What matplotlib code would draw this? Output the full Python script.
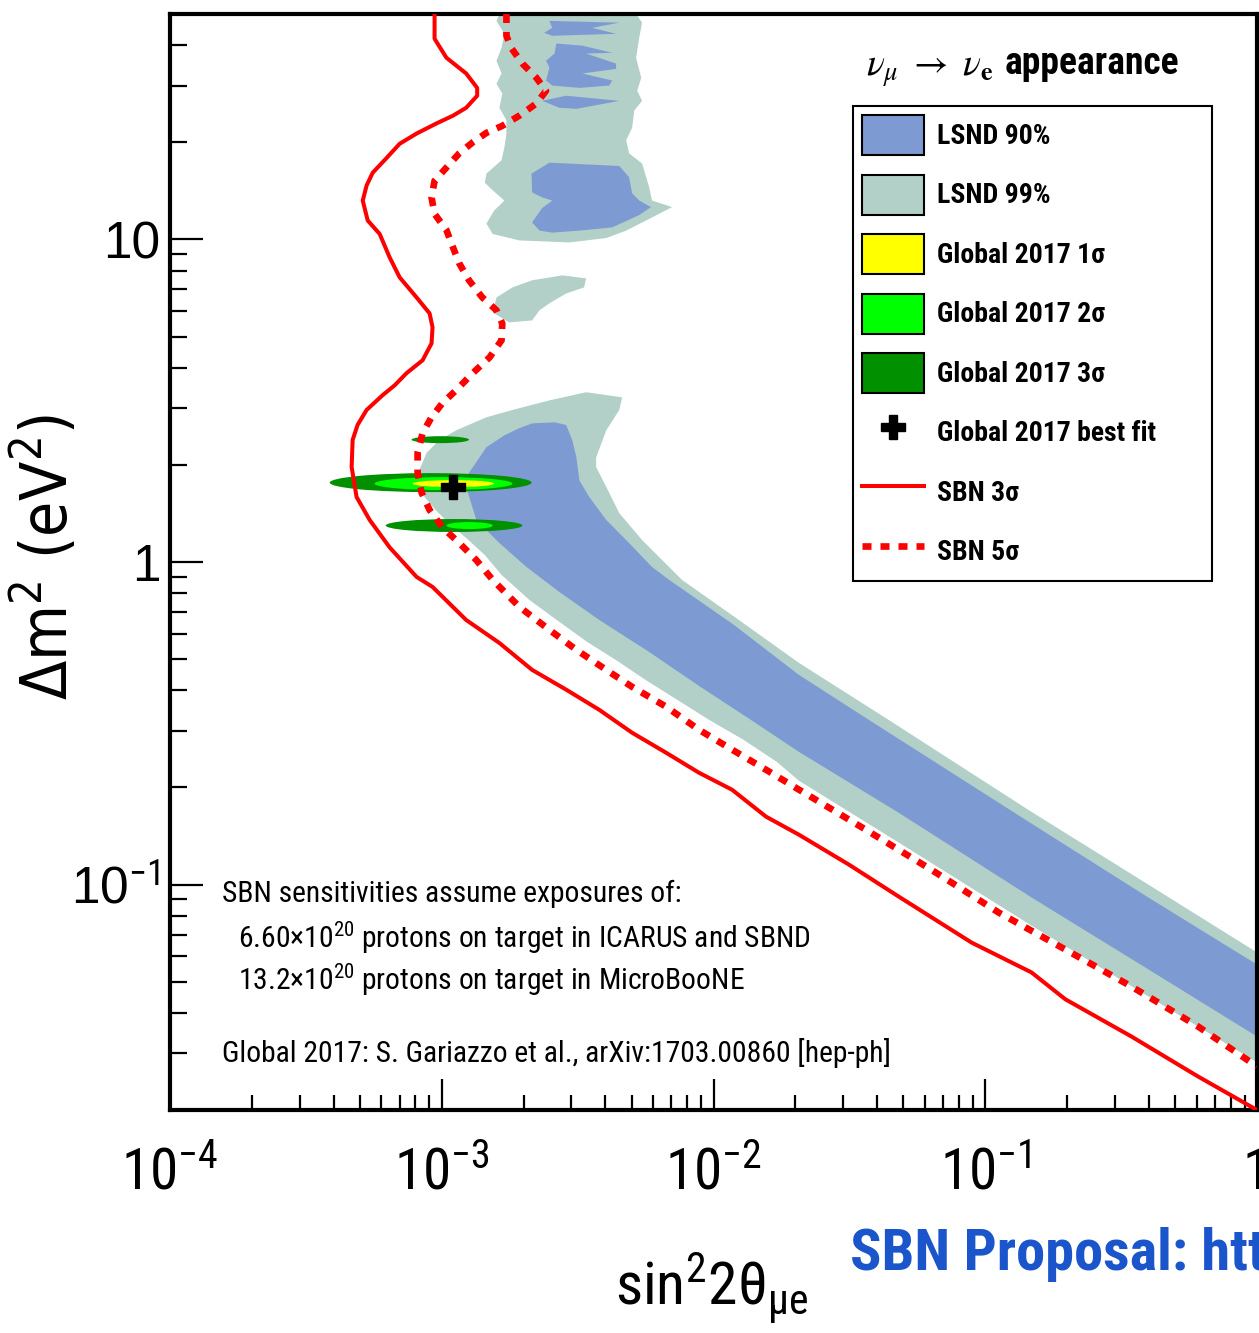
import os
import numpy as np
import matplotlib
matplotlib.use("Agg")
import matplotlib.pyplot as plt
from matplotlib import font_manager
from matplotlib.font_manager import FontProperties
from matplotlib.patches import Patch, Ellipse
from matplotlib.lines import Line2D
from matplotlib.ticker import NullFormatter

# ---------------- data ----------------
x_tick_values = [1e-4, 1e-3, 1e-2, 1e-1, 1.0]
x_tick_labels = ['10$^{-4}$', '10$^{-3}$', '10$^{-2}$', '10$^{-1}$', '1']
y_tick_values = [0.1, 1.0, 10.0]
y_tick_labels = ['10$^{-1}$', '1', '10']

# SBN 3 sigma sensitivity (solid)
sbn3_sin2 = [9.41e-4, 9.41e-4, 1.04e-3, 1.23e-3, 1.35e-3, 1.35e-3, 1.23e-3, 1.10e-3, 9.57e-4, 8.08e-4,
             7.00e-4, 6.27e-4, 5.57e-4, 5.29e-4, 5.12e-4, 5.34e-4, 5.91e-4, 6.43e-4, 7.00e-4, 8.08e-4,
             9.02e-4, 9.25e-4, 9.17e-4, 8.50e-4, 7.42e-4, 6.71e-4, 6.06e-4, 5.29e-4, 4.90e-4, 4.70e-4,
             4.66e-4, 4.86e-4, 5.43e-4, 6.43e-4, 8.08e-4, 9.25e-4, 1.23e-3, 1.63e-3, 2.15e-3, 2.87e-3,
             3.80e-3, 5.02e-3, 6.69e-3, 8.84e-3, 1.17e-2, 1.56e-2, 2.06e-2, 3.15e-2, 4.80e-2, 8.90e-2,
             0.148, 0.197, 0.345, 0.607, 1.0]
sbn3_dm2 = [50, 41.9, 36.6, 32.7, 29.5, 27.9, 25.6, 24.2, 22.9, 21.3,
            19.8, 17.9, 16.1, 14.7, 13.2, 11.45, 10.4, 8.80, 7.63, 6.61,
            5.90, 5.34, 4.76, 4.22, 3.85, 3.53, 3.29, 2.96, 2.66, 2.39,
            1.97, 1.59, 1.35, 1.11, 0.899, 0.837, 0.661, 0.561, 0.463, 0.402,
            0.348, 0.2955, 0.2563, 0.2222, 0.1968, 0.1624, 0.1428, 0.1153, 0.0918, 0.0661,
            0.0534, 0.0441, 0.0338, 0.0254, 0.0200]

# SBN 5 sigma sensitivity (dotted)
sbn5_sin2 = [1.73e-3, 1.73e-3, 1.80e-3, 1.98e-3, 2.23e-3, 2.42e-3, 2.23e-3, 1.93e-3, 1.67e-3, 1.46e-3,
             1.30e-3, 1.16e-3, 1.04e-3, 9.41e-4, 9.17e-4, 9.41e-4, 1.04e-3, 1.10e-3, 1.16e-3, 1.26e-3,
             1.41e-3, 1.59e-3, 1.67e-3, 1.66e-3, 1.50e-3, 1.30e-3, 1.13e-3, 1.006e-3, 9.17e-4, 8.50e-4,
             8.15e-4, 8.15e-4, 8.43e-4, 9.02e-4, 1.006e-3, 1.16e-3, 1.34e-3, 1.54e-3, 1.93e-3, 2.49e-3,
             3.13e-3, 4.03e-3, 5.02e-3, 6.69e-3, 8.84e-3, 1.17e-2, 1.56e-2, 2.06e-2, 3.63e-2, 6.35e-2,
             0.112, 0.197, 0.345, 0.607, 1.0]
sbn5_dm2 = [50, 42.8, 39.3, 35.1, 31.7, 28.9, 26.4, 24.2, 22.5, 21.4,
            20.0, 18.5, 16.7, 15.2, 13.5, 12.0, 10.7, 9.45, 8.43, 7.47,
            6.61, 6.03, 5.49, 4.87, 4.31, 3.85, 3.41, 3.11, 2.81, 2.51,
            2.18, 1.89, 1.64, 1.45, 1.28, 1.145, 1.014, 0.880, 0.726, 0.616,
            0.534, 0.463, 0.410, 0.356, 0.302, 0.262, 0.227, 0.197, 0.148, 0.111,
            0.0819, 0.0629, 0.0483, 0.0363, 0.0273]

# LSND 99% main region
lsnd99_sin2 = [8.15e-4, 8.28e-4, 8.79e-4, 9.81e-4, 1.13e-3, 1.46e-3, 1.82e-3, 2.49e-3, 3.40e-3, 4.61e-3,
               4.50e-3, 4.03e-3, 3.70e-3, 3.70e-3, 4.03e-3, 4.50e-3, 5.46e-3, 7.66e-3, 1.24e-2, 2.06e-2,
               4.41e-2, 0.148, 0.398, 1.0, 1.0, 0.398, 0.148, 4.80e-2, 2.06e-2, 1.71e-2,
               1.29e-2, 9.63e-3, 7.35e-3, 5.55e-3, 4.42e-3, 3.43e-3, 2.71e-3, 2.10e-3, 1.66e-3, 1.44e-3,
               1.23e-3, 1.07e-3, 9.49e-4, 8.65e-4]
lsnd99_dm2 = [1.757, 1.93, 2.18, 2.39, 2.56, 2.81, 2.96, 3.17, 3.36, 3.24,
              2.96, 2.56, 2.11, 1.97, 1.71, 1.418, 1.17, 0.880, 0.661, 0.487,
              0.324, 0.168, 0.100, 0.0616, 0.0281, 0.045, 0.0746, 0.135, 0.21, 0.240,
              0.281, 0.324, 0.374, 0.434, 0.494, 0.565, 0.652, 0.763, 0.912, 1.051,
              1.187, 1.31, 1.45, 1.59]

# LSND 99% upper region (high dm2)
lsnd99_top_sin2 = [1.63e-3, 1.59e-3, 1.70e-3, 1.66e-3, 1.59e-3, 1.66e-3, 1.59e-3, 1.67e-3, 1.63e-3, 1.73e-3,
                   1.73e-3, 1.70e-3, 1.66e-3, 1.46e-3, 1.44e-3, 1.54e-3, 1.70e-3, 1.56e-3, 1.46e-3, 1.54e-3,
                   1.93e-3, 2.95e-3, 4.03e-3, 4.77e-3, 5.94e-3, 7.04e-3, 5.94e-3, 5.80e-3, 5.46e-3, 4.89e-3,
                   4.77e-3, 5.02e-3, 5.11e-3, 5.46e-3, 5.24e-3, 5.42e-3, 5.19e-3, 5.33e-3, 5.46e-3, 5.19e-3]
lsnd99_top_dm2 = [50, 47.6, 43.4, 39.3, 35.8, 32.7, 30.4, 28.3, 25.6, 23.4,
                  21.3, 19.3, 17.6, 16.0, 15.0, 14.2, 13.2, 12.3, 11.2, 10.4,
                  9.93, 9.79, 10.1, 10.65, 11.7, 12.6, 13.2, 14.5, 17.2, 18.5,
                  20.3, 22.2, 25.1, 26.9, 28.9, 31.7, 36.6, 42.2, 47.0, 50]

# LSND 99% small island (dm2 ~ 6-7)
lsnd99_isl_sin2 = [1.59e-3, 1.82e-3, 2.15e-3, 2.78e-3, 3.40e-3, 3.34e-3, 2.87e-3, 2.49e-3, 2.29e-3, 2.15e-3,
                   1.77e-3, 1.54e-3]
lsnd99_isl_dm2 = [6.61, 7.10, 7.47, 7.74, 7.57, 7.10, 6.80, 6.34, 6.03, 5.61, 5.53, 5.94]

# LSND 90% main region
lsnd90_sin2 = [1.70e-3, 1.93e-3, 2.15e-3, 2.60e-3, 2.87e-3, 3.02e-3, 3.13e-3, 3.21e-3, 3.49e-3, 4.03e-3,
               4.89e-3, 5.94e-3, 6.87e-3, 1.19e-2, 2.06e-2, 3.73e-2, 0.148, 0.398, 1.0, 1.0,
               0.398, 0.148, 4.80e-2, 2.06e-2, 1.35e-2, 8.84e-3, 5.80e-3, 3.80e-3, 2.71e-3, 2.05e-3,
               1.63e-3, 1.34e-3, 1.24e-3, 1.26e-3, 1.46e-3]
lsnd90_dm2 = [2.47, 2.60, 2.69, 2.71, 2.66, 2.39, 2.11, 1.79, 1.59, 1.35,
              1.145, 0.965, 0.880, 0.638, 0.447, 0.324, 0.1545, 0.0912, 0.0565, 0.0338,
              0.0546, 0.0912, 0.167, 0.258, 0.327, 0.413, 0.526, 0.661, 0.807, 0.965,
              1.145, 1.35, 1.67, 1.89, 2.27]

# LSND 90% upper islands
lsnd90_a_sin2 = [2.49e-3, 4.50e-3, 3.58e-3, 4.38e-3, 2.55e-3, 2.38e-3, 2.55e-3]
lsnd90_a_dm2 = [47.6, 47.0, 45.3, 43.4, 42.8, 43.7, 45.3]
lsnd90_b_sin2 = [2.64e-3, 3.29e-3, 4.24e-3, 3.40e-3, 4.38e-3, 4.38e-3, 3.29e-3, 4.24e-3, 4.13e-3, 3.21e-3,
                 2.55e-3, 2.42e-3, 2.49e-3, 2.42e-3, 2.60e-3]
lsnd90_b_dm2 = [40.5, 39.9, 37.9, 37.7, 35.1, 33.8, 32.7, 31.1, 30.0, 29.5,
                30.0, 31.1, 34.1, 35.8, 37.7]
lsnd90_c_sin2 = [2.34e-3, 2.87e-3, 4.50e-3, 3.13e-3, 2.71e-3]
lsnd90_c_dm2 = [26.9, 27.9, 26.9, 25.4, 25.6]
lsnd90_d_sin2 = [2.49e-3, 4.50e-3, 4.89e-3, 5.02e-3, 5.33e-3, 5.89e-3, 5.33e-3, 4.24e-3, 3.21e-3, 2.55e-3,
                 2.29e-3, 2.15e-3, 2.34e-3, 2.55e-3, 2.34e-3, 2.15e-3, 2.14e-3]
lsnd90_d_dm2 = [17.3, 16.9, 15.6, 13.9, 13.2, 12.6, 11.9, 10.9, 10.65, 10.5,
                10.65, 11.3, 12.5, 13.2, 13.5, 14.0, 16.0]

# Global 2017 allowed regions: extents of each closed contour
glob_level = [3, 3, 3, 2, 2, 1]
glob_sin2_lo = [3.87e-4, 7.74e-4, 6.22e-4, 5.66e-4, 1.041e-3, 7.81e-4]
glob_sin2_hi = [2.14e-3, 1.26e-3, 1.98e-3, 1.82e-3, 1.54e-3, 1.56e-3]
glob_dm2_lo = [1.647, 2.336, 1.239, 1.671, 1.265, 1.707]
glob_dm2_hi = [1.886, 2.455, 1.359, 1.833, 1.33, 1.794]

bestfit_sin2 = 1.1e-3
bestfit_dm2 = 1.71

legend_labels = ['LSND 90%', 'LSND 99%', 'Global 2017 1σ', 'Global 2017 2σ',
                 'Global 2017 3σ', 'Global 2017 best fit', 'SBN 3σ', 'SBN 5σ']

# ---------------- fonts ----------------
def pick_condensed():
    prefs = ['liberation sans narrow', 'arial narrow', 'nimbus sans narrow', 'roboto condensed',
             'noto sans condensed', 'open sans condensed', 'dejavu sans condensed', 'dejavu sans']
    found = []
    for f in font_manager.fontManager.ttflist:
        n = f.name.lower()
        fn = os.path.basename(f.fname).lower()
        cond = ('narrow' in n or 'narrow' in fn or
                (('condensed' in n or 'condensed' in fn) and 'semi' not in n and 'semi' not in fn
                 and 'extra' not in n and 'extra' not in fn))
        if cond:
            found.append(f)
    for p in prefs:
        for f in found:
            if f.name.lower().startswith(p):
                return f.name, f.stretch
    if found:
        return found[0].name, found[0].stretch
    return None, None

COND_FAM, COND_STRETCH = pick_condensed()
if COND_FAM is None:
    NARROW, STRETCH, SC = 'Liberation Sans', 'normal', 0.84
else:
    NARROW, STRETCH, SC = COND_FAM, COND_STRETCH, 1.0
REG = 'Liberation Sans'

plt.rcParams['font.family'] = [NARROW, 'DejaVu Sans']
plt.rcParams['font.stretch'] = STRETCH
plt.rcParams['mathtext.fontset'] = 'custom'
_pat = NARROW.replace(':', ' ').replace('-', ' ')
plt.rcParams['mathtext.rm'] = _pat + ':stretch=' + str(STRETCH)
plt.rcParams['mathtext.it'] = _pat + ':italic:stretch=' + str(STRETCH)
plt.rcParams['mathtext.bf'] = _pat + ':bold:stretch=' + str(STRETCH)
plt.rcParams['mathtext.sf'] = _pat + ':stretch=' + str(STRETCH)


def nfont(size, weight='normal'):
    return dict(family=NARROW, stretch=STRETCH, fontsize=size * SC, fontweight=weight)


C90 = '#7d9bd2'
C99 = '#b2d0c8'
LEVEL_COLOR = {1: '#ffff00', 2: '#00ff00', 3: '#009000'}
RED = '#ff0000'

W, H = 1259, 1333
fig = plt.figure(figsize=(W / 100, H / 100), dpi=100)
ax = fig.add_axes([170 / W, 1 - 1110 / H, (1257 - 170) / W, (1110 - 14) / H])
ax.set_xscale('log')
ax.set_yscale('log')
ax.set_xlim(1e-4, 1.0)
ax.set_ylim(0.02, 50)

# LSND regions
ax.fill(lsnd99_sin2, lsnd99_dm2, color=C99, lw=0, zorder=1)
ax.fill(lsnd99_top_sin2, lsnd99_top_dm2, color=C99, lw=0, zorder=1)
ax.fill(lsnd99_isl_sin2, lsnd99_isl_dm2, color=C99, lw=0, zorder=1)
ax.fill(lsnd90_sin2, lsnd90_dm2, color=C90, lw=0, zorder=2)
for xs, ys in [(lsnd90_a_sin2, lsnd90_a_dm2), (lsnd90_b_sin2, lsnd90_b_dm2),
               (lsnd90_c_sin2, lsnd90_c_dm2), (lsnd90_d_sin2, lsnd90_d_dm2)]:
    ax.fill(xs, ys, color=C90, lw=0, zorder=2)

# Global 2017 contours (ellipses in the log-scaled coordinate space of the axes)
scaled_tr = ax.transLimits + ax.transAxes
for lev, x0, x1, y0, y1 in zip(glob_level, glob_sin2_lo, glob_sin2_hi, glob_dm2_lo, glob_dm2_hi):
    cx = 0.5 * (np.log10(x0) + np.log10(x1))
    cy = 0.5 * (np.log10(y0) + np.log10(y1))
    e = Ellipse((cx, cy), np.log10(x1 / x0), np.log10(y1 / y0), transform=scaled_tr,
                facecolor=LEVEL_COLOR[lev], edgecolor='none', zorder=3 + (3 - lev))
    ax.add_patch(e)

# SBN sensitivity curves
ax.plot(sbn3_sin2, sbn3_dm2, color=RED, lw=2.9, zorder=7, solid_joinstyle='round')
DOT = (0, (1.35, 1.35))
ax.plot(sbn5_sin2, sbn5_dm2, color=RED, lw=4.8, ls=DOT, dash_capstyle='butt', zorder=7)

# best fit
ax.plot([bestfit_sin2], [bestfit_dm2], ls='none', marker='P', ms=17, color='black', zorder=9)

# axes styling
for s in ax.spines.values():
    s.set_linewidth(3)
ax.tick_params(axis='both', which='both', direction='in', top=False, right=False, color='black')
ax.tick_params(axis='x', which='major', length=22, width=1.6, pad=26)
ax.tick_params(axis='x', which='minor', length=11, width=1.6)
ax.tick_params(axis='y', which='major', length=24, width=1.6, pad=7)
ax.tick_params(axis='y', which='minor', length=12, width=1.6)
ax.set_xticks(x_tick_values)
ax.set_xticklabels(x_tick_labels, **nfont(41))
ax.set_yticks(y_tick_values)
ax.set_yticklabels(y_tick_labels, family=REG, fontsize=37)
ax.xaxis.set_minor_formatter(NullFormatter())
ax.yaxis.set_minor_formatter(NullFormatter())

# legend
handles = [Patch(facecolor=C90, edgecolor='black', lw=1.5),
           Patch(facecolor=C99, edgecolor='black', lw=1.5),
           Patch(facecolor=LEVEL_COLOR[1], edgecolor='black', lw=1.5),
           Patch(facecolor=LEVEL_COLOR[2], edgecolor='black', lw=1.5),
           Patch(facecolor=LEVEL_COLOR[3], edgecolor='black', lw=1.5),
           Line2D([], [], ls='none', marker='P', ms=17, color='black'),
           Line2D([], [], color=RED, lw=2.9),
           Line2D([], [], color=RED, lw=4.8, ls=DOT, dash_capstyle='butt')]
leg_size = 20 * SC
leg_px = leg_size * 100 / 72
leg_top = 1 - 106 / H
leg = ax.legend(handles, legend_labels, loc='upper left',
                bbox_to_anchor=(853 / W, leg_top - 0.45, 359 / W, 0.45),
                bbox_transform=fig.transFigure, mode='expand', borderaxespad=0,
                prop=FontProperties(family=NARROW, stretch=STRETCH, weight='bold', size=leg_size),
                handlelength=62 / leg_px, handleheight=(40 / leg_px - 0.245) / 0.65,
                labelspacing=19.5 / leg_px, handletextpad=13 / leg_px, borderpad=9 / leg_px,
                frameon=True, fancybox=False, edgecolor='black', framealpha=1)
leg.get_frame().set_linewidth(1.5)
leg.set_zorder(20)

# title inside plot
fig.text(866 / W, 1 - 76 / H, r'$\nu_{\mu}\ \rightarrow\ \nu_{\mathbf{e}}$', fontsize=27,
         math_fontfamily='stix', va='baseline', ha='left')
fig.text(1005 / W, 1 - 74 / H, 'appearance', va='baseline', ha='left', **nfont(27, 'bold'))

# annotation text
fig.text(222 / W, 1 - 902 / H, 'SBN sensitivities assume exposures of:', va='baseline', **nfont(21.3))
fig.text(238 / W, 1 - 948 / H, r'6.60$\times$10$^{20}$ protons on target in ICARUS and SBND',
         va='baseline', **nfont(21.3))
fig.text(238 / W, 1 - 990 / H, r'13.2$\times$10$^{20}$ protons on target in MicroBooNE',
         va='baseline', **nfont(21.3))
fig.text(222 / W, 1 - 1062 / H, 'Global 2017: S. Gariazzo et al., arXiv:1703.00860 [hep-ph]',
         va='baseline', **nfont(21.3))

# axis titles
fig.text(46 / W, 1 - 557 / H, 'Δm$^{2}$ (eV$^{2}$)', rotation=90, ha='center', va='center',
         fontsize=46, family='DejaVu Sans', math_fontfamily='dejavusans')
fig.text(712 / W, 1 - 1305 / H, r'sin$^{2}$2$\mathrm{\theta}_{\mathrm{\mu e}}$', ha='center',
         va='baseline', **nfont(43))
fig.text(850 / W, 1 - 1270 / H, 'SBN Proposal: https://arxiv.org/abs/1503.01520', ha='left',
         va='baseline', color='#1a55cc', **nfont(42, 'bold'))

fig.savefig('out.png', dpi=100)
